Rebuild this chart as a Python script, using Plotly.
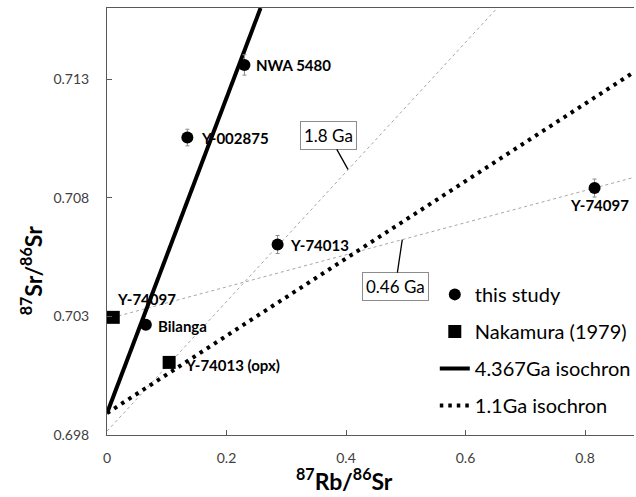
import plotly.graph_objects as go

# ---- data ----
study_names = ["NWA 5480", "Y-002875", "Y-74013", "Y-74097", "Bilanga"]
study_rbsr = [0.230, 0.1345, 0.2855, 0.816, 0.065]
study_srsr = [0.71360, 0.71054, 0.70603, 0.70841, 0.70265]
study_err = [0.00043, 0.00035, 0.00038, 0.00038, 0.00020]

nak_names = ["Y-74097", "Y-74013 (opx)"]
nak_rbsr = [0.0105, 0.104]
nak_srsr = [0.70296, 0.70106]

iso4367_x = [0.0, 0.257]
iso4367_y = [0.69892, 0.71600]

iso11_x = [0.0, 0.882]
iso11_y = [0.69892, 0.71330]

ref18_x = [0.0, 0.653]
ref18_y = [0.69816, 0.71600]

ref046_x = [0.0, 0.882]
ref046_y = [0.70289, 0.70886]

x_ticks = [0, 0.2, 0.4, 0.6, 0.8]
x_ticktext = ["0", "0.2", "0.4", "0.6", "0.8"]
y_ticks = [0.698, 0.703, 0.708, 0.713]
y_ticktext = ["0.698", "0.703", "0.708", "0.713"]

FONT = "Lato"

fig = go.Figure()

# thin grey reference lines
fig.add_trace(go.Scatter(x=ref18_x, y=ref18_y, mode="lines", showlegend=False,
                         line=dict(color="#a6a6a6", width=1, dash="dot"), hoverinfo="skip"))
fig.add_trace(go.Scatter(x=ref046_x, y=ref046_y, mode="lines", showlegend=False,
                         line=dict(color="#a6a6a6", width=1, dash="dot"), hoverinfo="skip"))

# isochrons
fig.add_trace(go.Scatter(x=iso4367_x, y=iso4367_y, mode="lines", name="4.367Ga isochron",
                         legendrank=3, legendgroup="c",
                         line=dict(color="black", width=4)))
fig.add_trace(go.Scatter(x=iso11_x, y=iso11_y, mode="lines", name="1.1Ga isochron",
                         legendrank=4, legendgroup="d",
                         line=dict(color="black", width=4, dash="3.5px,5px")))

# data points
fig.add_trace(go.Scatter(x=study_rbsr, y=study_srsr, mode="markers", name="this study",
                         legendrank=1, legendgroup="a",
                         marker=dict(symbol="circle", size=12, color="black"),
                         error_y=dict(type="data", array=study_err, color="#8c8c8c",
                                      thickness=1, width=2)))
fig.add_trace(go.Scatter(x=nak_rbsr, y=nak_srsr, mode="markers", name="Nakamura (1979)",
                         legendrank=2, legendgroup="b",
                         marker=dict(symbol="square", size=13, color="black")))

# point labels
lab_font = dict(family=FONT, size=15, color="black")
study_offsets = [(10, 0, "left"), (12, 0, "left"), (10, 0, "left"), (5, -17, "center"), (10, -1, "left")]
for n, x, y, (dx, dy, anc) in zip(study_names, study_rbsr, study_srsr, study_offsets):
    fig.add_annotation(x=x, y=y, text="<b>%s</b>" % n, showarrow=False, xanchor=anc,
                       xshift=dx, yshift=dy, font=lab_font)
nak_offsets = [(2, 18), (14, -3)]
for n, x, y, (dx, dy) in zip(nak_names, nak_rbsr, nak_srsr, nak_offsets):
    fig.add_annotation(x=x, y=y, text="<b>%s</b>" % n, showarrow=False, xanchor="left",
                       xshift=dx, yshift=dy, font=lab_font)

# age callouts
fig.add_annotation(x=0.4033, y=0.70920, text="1.8 Ga", showarrow=True, arrowhead=0,
                   arrowwidth=1.3, arrowcolor="black", ax=-19, ay=-34,
                   bordercolor="#8c8c8c", borderwidth=1, borderpad=3, bgcolor="white",
                   font=dict(family=FONT, size=17, color="black"))
fig.add_annotation(x=0.4942, y=0.70624, text="0.46 Ga", showarrow=True, arrowhead=0,
                   arrowwidth=1.3, arrowcolor="black", ax=-7, ay=47,
                   bordercolor="#8c8c8c", borderwidth=1, borderpad=3, bgcolor="white",
                   font=dict(family=FONT, size=17, color="black"))

# axis titles
fig.add_annotation(xref="paper", yref="paper", x=0.45, y=-0.104,
                   xanchor="center", yanchor="middle",
                   text="<b><sup>87</sup>Rb/<sup>86</sup>Sr</b>", showarrow=False,
                   font=dict(family=FONT, size=23, color="black"))
fig.add_annotation(xref="paper", yref="paper", x=-0.1437, y=0.384, textangle=-90,
                   xanchor="center", yanchor="middle",
                   text="<b><sup>87</sup>Sr/<sup>86</sup>Sr</b>", showarrow=False,
                   font=dict(family=FONT, size=23, color="black"))

fig.update_layout(
    width=636, height=497,
    margin=dict(l=107, r=0, t=8, b=62),
    paper_bgcolor="white", plot_bgcolor="white",
    font=dict(family=FONT, size=14, color="#404040"),
    showlegend=True,
    legend=dict(x=0.622, y=0.375, xanchor="left", yanchor="top",
                font=dict(family=FONT, size=20, color="black"),
                traceorder="grouped", tracegroupgap=8, itemwidth=30,
                bgcolor="rgba(0,0,0,0)"),
    xaxis=dict(range=[0, 0.882], tickvals=x_ticks, ticktext=x_ticktext,
               showgrid=False, zeroline=False, showline=True, linecolor="#595959",
               linewidth=1, mirror=True, ticks="inside", ticklen=5, tickcolor="#595959",
               ticklabelstandoff=10),
    yaxis=dict(range=[0.698, 0.716], tickvals=y_ticks, ticktext=y_ticktext,
               showgrid=False, zeroline=False, showline=True, linecolor="#595959",
               linewidth=1, mirror=False, ticks="inside", ticklen=5, tickcolor="#595959",
               ticklabelstandoff=14),
)

fig.write_html("out.html", config={"displayModeBar": False},
               post_script="document.body.style.margin='0';document.body.style.overflow='hidden';")
